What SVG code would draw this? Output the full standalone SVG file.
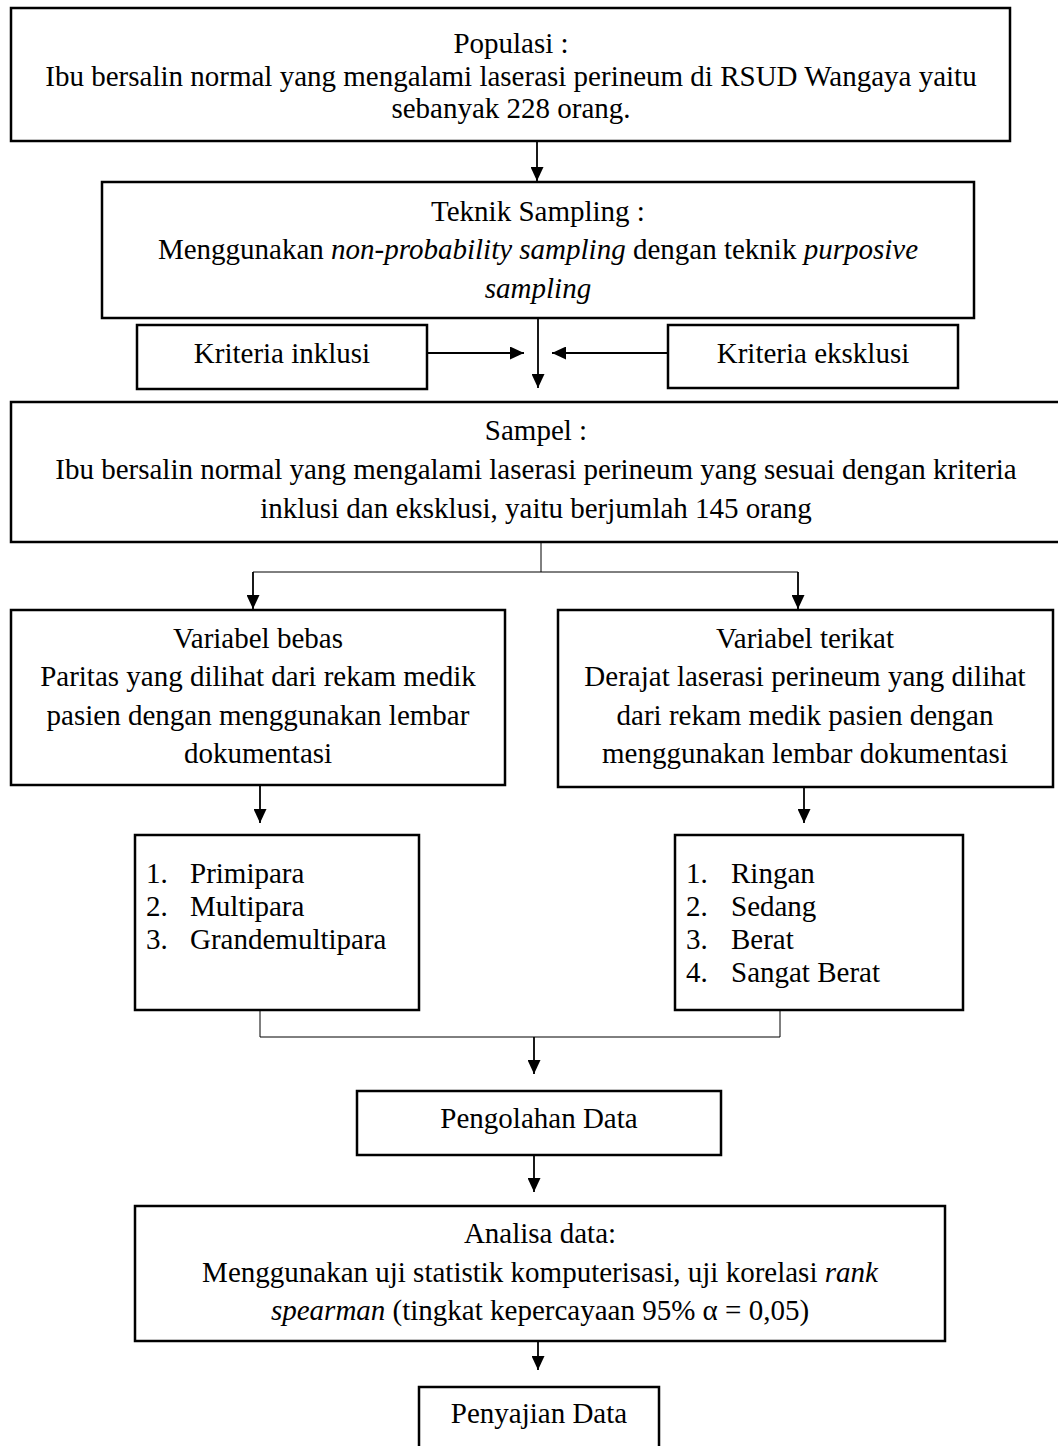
<svg xmlns="http://www.w3.org/2000/svg" width="1058" height="1446" viewBox="0 0 1058 1446">
<style>
.box{fill:#fff;stroke:#000;stroke-width:2.5}
.t{font-family:"Liberation Serif","Times New Roman",serif;font-size:29px;fill:#000}
.c{text-anchor:middle}
.i{font-style:italic}
.arr{stroke:#000;stroke-width:1.8;fill:none}
.thin{stroke:#000;stroke-width:1;fill:none}
</style>
<defs>
<marker id="ah" markerUnits="userSpaceOnUse" markerWidth="14" markerHeight="13" refX="14" refY="6.5" orient="auto">
<path d="M0,0 L14,6.5 L0,13 z" fill="#000"/>
</marker>
</defs>
<rect width="1058" height="1446" fill="#fff"/>
<g id="connectors">
<line class="arr" x1="537" y1="141" x2="537" y2="181" marker-end="url(#ah)"/>
<line class="arr" x1="538" y1="318" x2="538" y2="388" marker-end="url(#ah)"/>
<line class="arr" x1="427" y1="353" x2="524" y2="353" marker-end="url(#ah)"/>
<line class="arr" x1="668" y1="353" x2="552" y2="353" marker-end="url(#ah)"/>
<polyline class="thin" points="541,542 541,572"/>
<polyline class="thin" points="253,572 798,572"/>
<line class="arr" x1="253" y1="572" x2="253" y2="609" marker-end="url(#ah)"/>
<line class="arr" x1="798" y1="572" x2="798" y2="609" marker-end="url(#ah)"/>
<line class="arr" x1="260" y1="785" x2="260" y2="823" marker-end="url(#ah)"/>
<line class="arr" x1="804" y1="787" x2="804" y2="823" marker-end="url(#ah)"/>
<polyline class="thin" points="260,1010 260,1037 780,1037 780,1010"/>
<line class="arr" x1="534" y1="1037" x2="534" y2="1074" marker-end="url(#ah)"/>
<line class="arr" x1="534" y1="1155" x2="534" y2="1192" marker-end="url(#ah)"/>
<line class="arr" x1="538" y1="1341" x2="538" y2="1370" marker-end="url(#ah)"/>
</g>
<g id="populasi">
<rect class="box" x="11" y="8" width="999" height="133"/>
<text class="t c" x="511" y="53">Populasi :</text>
<text class="t c" x="511" y="86">Ibu bersalin normal yang mengalami laserasi perineum di RSUD Wangaya yaitu</text>
<text class="t c" x="511" y="118">sebanyak 228 orang.</text>
</g>
<g id="teknik">
<rect class="box" x="102" y="182" width="872" height="136"/>
<text class="t c" x="538" y="221">Teknik Sampling :</text>
<text class="t c" x="538" y="259">Menggunakan <tspan class="i">non-probability sampling</tspan> dengan teknik <tspan class="i">purposive</tspan></text>
<text class="t c i" x="538" y="298">sampling</text>
</g>
<g id="inklusi">
<rect class="box" x="137" y="325" width="290" height="64"/>
<text class="t c" x="282" y="363">Kriteria inklusi</text>
</g>
<g id="eksklusi">
<rect class="box" x="668" y="325" width="290" height="63"/>
<text class="t c" x="813" y="363">Kriteria eksklusi</text>
</g>
<g id="sampel">
<rect class="box" x="11" y="402" width="1052" height="140"/>
<text class="t c" x="536" y="440">Sampel :</text>
<text class="t c" x="536" y="479">Ibu bersalin normal yang mengalami laserasi perineum yang sesuai dengan kriteria</text>
<text class="t c" x="536" y="518">inklusi dan eksklusi, yaitu berjumlah 145 orang</text>
</g>
<g id="bebas">
<rect class="box" x="11" y="610" width="494" height="175"/>
<text class="t c" x="258" y="648">Variabel bebas</text>
<text class="t c" x="258" y="686">Paritas yang dilihat dari rekam medik</text>
<text class="t c" x="258" y="725">pasien dengan menggunakan lembar</text>
<text class="t c" x="258" y="763">dokumentasi</text>
</g>
<g id="terikat">
<rect class="box" x="558" y="610" width="495" height="177"/>
<text class="t c" x="805" y="648">Variabel terikat</text>
<text class="t c" x="805" y="686">Derajat laserasi perineum yang dilihat</text>
<text class="t c" x="805" y="725">dari rekam medik pasien dengan</text>
<text class="t c" x="805" y="763">menggunakan lembar dokumentasi</text>
</g>
<g id="paritas-list">
<rect class="box" x="135" y="835" width="284" height="175"/>
<text class="t" x="146" y="883">1.</text><text class="t" x="190" y="883">Primipara</text>
<text class="t" x="146" y="916">2.</text><text class="t" x="190" y="916">Multipara</text>
<text class="t" x="146" y="949">3.</text><text class="t" x="190" y="949">Grandemultipara</text>
</g>
<g id="derajat-list">
<rect class="box" x="675" y="835" width="288" height="175"/>
<text class="t" x="686" y="883">1.</text><text class="t" x="731" y="883">Ringan</text>
<text class="t" x="686" y="916">2.</text><text class="t" x="731" y="916">Sedang</text>
<text class="t" x="686" y="949">3.</text><text class="t" x="731" y="949">Berat</text>
<text class="t" x="686" y="982">4.</text><text class="t" x="731" y="982">Sangat Berat</text>
</g>
<g id="pengolahan">
<rect class="box" x="357" y="1091" width="364" height="64"/>
<text class="t c" x="539" y="1128">Pengolahan Data</text>
</g>
<g id="analisa">
<rect class="box" x="135" y="1206" width="810" height="135"/>
<text class="t c" x="540" y="1243">Analisa data:</text>
<text class="t c" x="540" y="1282">Menggunakan uji statistik komputerisasi, uji korelasi <tspan class="i">rank</tspan></text>
<text class="t c" x="540" y="1320"><tspan class="i">spearman</tspan> (tingkat kepercayaan 95% α = 0,05)</text>
</g>
<g id="penyajian">
<rect class="box" x="419" y="1387" width="240" height="75"/>
<text class="t c" x="539" y="1423">Penyajian Data</text>
</g>
</svg>
